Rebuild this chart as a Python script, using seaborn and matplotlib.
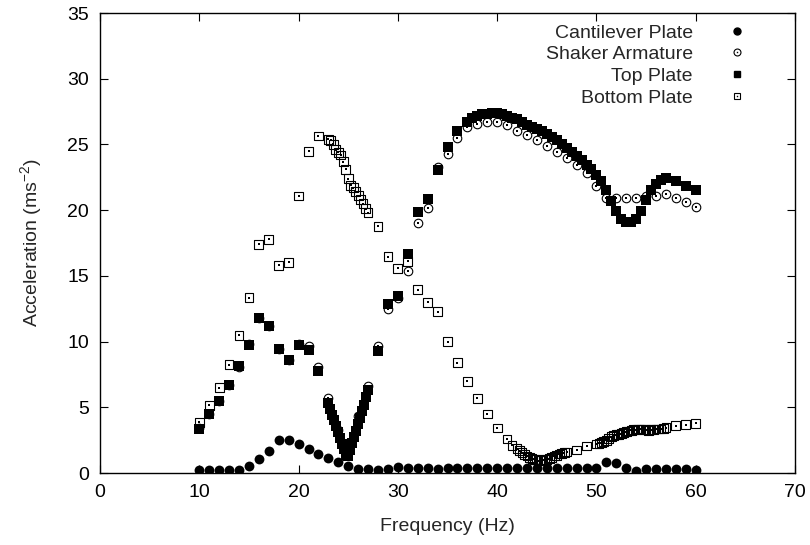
import matplotlib
matplotlib.use("Agg")
import matplotlib.pyplot as plt
import seaborn as sns
from matplotlib.lines import Line2D
from matplotlib.legend_handler import HandlerTuple

# ---- data ----
cant_freq = [10, 11, 12, 13, 14, 15, 16, 17, 18, 19, 20, 21, 22, 23, 24, 25, 26, 27, 28, 29,
             30, 31, 32, 33, 34, 35, 36, 37, 38, 39, 40, 41, 42, 43, 44, 45, 46, 47, 48, 49,
             50, 51, 52, 53, 54, 55, 56, 57, 58, 59, 60]
cant_acc = [0.2, 0.2, 0.2, 0.25, 0.25, 0.55, 1.06, 1.64, 2.5, 2.5, 2.23, 1.83, 1.45, 1.11, 0.86, 0.56,
            0.3, 0.3, 0.2, 0.3, 0.45, 0.35, 0.4, 0.35, 0.3, 0.35, 0.4, 0.35, 0.4, 0.35,
            0.4, 0.35, 0.4, 0.4, 0.35, 0.35, 0.4, 0.35, 0.35, 0.35, 0.4, 0.8, 0.75, 0.35,
            0.15, 0.3, 0.3, 0.3, 0.3, 0.3, 0.25]

shaker_freq = cant_freq
shaker_acc = [3.4, 4.5, 5.5, 6.7, 8.1, 9.8, 11.8, 11.2, 9.4, 8.6, 9.8, 9.65, 8.1, 5.7, 3.3, 1.9,
              4.3, 6.6, 9.65, 12.5, 13.3, 15.35, 19.05, 20.2, 23.3, 24.3, 25.5, 26.35, 26.55, 26.7,
              26.7, 26.45, 26.05, 25.75, 25.35, 24.9, 24.45, 23.95, 23.4, 22.8, 21.8, 20.9, 20.9,
              20.95, 20.95, 21.05, 21.1, 21.25, 20.95, 20.65, 20.25]

top_freq = [10, 11, 12, 13, 14, 15, 16, 17, 18, 19, 20, 21, 22,
            23.0, 23.2, 23.4, 23.6, 23.8, 24.0, 24.2, 24.4, 24.6, 24.8, 25.0, 25.2, 25.4, 25.6,
            25.8, 26.0, 26.2, 26.4, 26.6, 26.8, 27.0,
            28, 29, 30, 31, 32, 33, 34, 35, 36,
            37.0, 37.5, 38.0, 38.5, 39.0, 39.5, 40.0, 40.5, 41.0, 41.5, 42.0, 42.5, 43.0, 43.5,
            44.0, 44.5, 45.0, 45.5, 46.0, 46.5, 47.0, 47.5, 48.0, 48.5, 49.0, 49.5, 50.0, 50.5,
            51.0, 51.5, 52.0, 52.5, 53.0, 53.5, 54.0, 54.5, 55.0, 55.5, 56.0, 56.5, 57.0,
            58, 59, 60]
top_acc = [3.32, 4.46, 5.48, 6.7, 8.11, 9.76, 11.8, 11.2, 9.4, 8.6, 9.74, 9.33, 7.76,
           5.35, 4.9, 4.45, 4.0, 3.55, 3.1, 2.65, 2.2, 1.8, 1.4, 1.3, 1.75, 2.25, 2.75,
           3.2, 3.7, 4.2, 4.7, 5.2, 5.75, 6.3,
           9.26, 12.87, 13.5, 16.68, 19.85, 20.87, 23.08, 24.8, 26.0,
           26.7, 27.0, 27.2, 27.3, 27.35, 27.4, 27.4, 27.35, 27.2, 27.0, 26.9, 26.7, 26.5, 26.35,
           26.2, 26.0, 25.8, 25.55, 25.3, 25.0, 24.7, 24.4, 24.1, 23.8, 23.4, 23.1, 22.7, 22.2,
           21.5, 20.7, 19.9, 19.3, 19.1, 19.1, 19.3, 19.9, 20.8, 21.5, 22.0, 22.3, 22.45,
           22.2, 21.8, 21.5]

bottom_freq = [10, 11, 12, 13, 14, 15, 16, 17, 18, 19, 20, 21, 22,
               23.0, 23.25, 23.5, 23.75, 24.0, 24.25, 24.5, 24.75, 25.0, 25.25, 25.5, 25.75,
               26.0, 26.25, 26.5, 26.75, 27.0,
               28, 29, 30, 31, 32, 33, 34, 35, 36, 37, 38, 39, 40, 41,
               41.5, 42.0, 42.25, 42.5, 42.75, 43.0, 43.25, 43.5, 43.75, 44.0, 44.25, 44.5,
               44.75, 45.0, 45.25, 45.5, 45.75, 46.0, 46.25, 46.5, 46.75, 47.0,
               48, 49, 50,
               50.25, 50.5, 50.75, 51.0, 51.25, 51.5, 51.75, 52.0, 52.25, 52.5, 52.75, 53.0,
               53.25, 53.5, 53.75, 54.0, 54.25, 54.5, 54.75, 55.0, 55.25, 55.5, 55.75, 56.0,
               56.25, 56.5, 56.75, 57.0,
               58, 59, 60]
bottom_acc = [3.85, 5.15, 6.5, 8.25, 10.48, 13.35, 17.41, 17.79, 15.79, 16.04, 21.07, 24.47, 25.64,
              25.4, 25.3, 25.0, 24.6, 24.4, 24.2, 23.7, 23.1, 22.4, 21.9, 21.7, 21.4,
              21.1, 20.8, 20.5, 20.1, 19.8,
              18.78, 16.47, 15.58, 16.1, 13.94, 13.0, 12.28, 10.0, 8.4, 6.98, 5.68, 4.49, 3.43, 2.59,
              2.1, 1.85, 1.7, 1.55, 1.4, 1.3, 1.2, 1.1, 1.05, 1.0, 0.95, 0.95,
              1.0, 1.05, 1.1, 1.2, 1.3, 1.35, 1.45, 1.5, 1.55, 1.6,
              1.75, 2.05, 2.2,
              2.25, 2.3, 2.4, 2.5, 2.65, 2.75, 2.85, 2.9, 2.95, 3.0, 3.1, 3.15,
              3.2, 3.25, 3.3, 3.3, 3.35, 3.35, 3.3, 3.3, 3.25, 3.3, 3.3, 3.35,
              3.35, 3.35, 3.4, 3.45,
              3.6, 3.68, 3.78]

labels = ["Cantilever Plate", "Shaker Armature", "Top Plate", "Bottom Plate"]

sns.set_style("ticks")
plt.rcParams["font.family"] = ["Liberation Sans", "DejaVu Sans"]
plt.rcParams["mathtext.fontset"] = "custom"
plt.rcParams["mathtext.rm"] = "Liberation Sans"
plt.rcParams["mathtext.it"] = "Liberation Sans"

FS = 14

fig = plt.figure(figsize=(8.1, 5.45), dpi=100)
ax = fig.add_axes([100 / 810, 1 - 473 / 545, 695 / 810, 460 / 545])

# cantilever: filled circles
sns.scatterplot(x=cant_freq, y=cant_acc, ax=ax, marker="o", s=50, color="black",
                edgecolor="black", linewidth=0, legend=False, zorder=3)
# shaker: open circles with centre dot
sns.scatterplot(x=shaker_freq, y=shaker_acc, ax=ax, marker="o", s=38, facecolor="white",
                edgecolor="black", linewidth=0.8, legend=False, zorder=4)
sns.scatterplot(x=shaker_freq, y=shaker_acc, ax=ax, marker="s", s=1.2, color="black",
                linewidth=0, legend=False, zorder=4)
# top plate: filled squares
sns.scatterplot(x=top_freq, y=top_acc, ax=ax, marker="s", s=52, color="black",
                linewidth=0, legend=False, zorder=5)
# bottom plate: open squares with centre dot
sns.scatterplot(x=bottom_freq, y=bottom_acc, ax=ax, marker="s", s=40, facecolor="none",
                edgecolor="black", linewidth=0.8, legend=False, zorder=6)
sns.scatterplot(x=bottom_freq, y=bottom_acc, ax=ax, marker="s", s=1.2, color="black",
                linewidth=0, legend=False, zorder=6)

ax.set_xlim(0, 70)
ax.set_ylim(0, 35)
ax.set_xticks(range(0, 71, 10))
ax.set_yticks(range(0, 36, 5))
ax.tick_params(direction="in", length=6, width=0.8, top=True, right=True,
               labelsize=FS, pad=8, colors="black")
for sp in ax.spines.values():
    sp.set_visible(True)
    sp.set_linewidth(1.0)
    sp.set_color("black")

ax.set_xlabel("Frequency (Hz)", fontsize=FS, labelpad=12)
ax.set_ylabel("Acceleration (ms$^{-2}$)", fontsize=FS, labelpad=17)

h_cant = Line2D([], [], ls="none", marker="o", ms=5, mfc="black", mec="black")
h_shk = (Line2D([], [], ls="none", marker="o", ms=5, mfc="white", mec="black", mew=0.8),
         Line2D([], [], ls="none", marker="s", ms=1, mfc="black", mec="none"))
h_top = Line2D([], [], ls="none", marker="s", ms=5, mfc="black", mec="black")
h_bot = (Line2D([], [], ls="none", marker="s", ms=5, mfc="none", mec="black", mew=0.8),
         Line2D([], [], ls="none", marker="s", ms=1, mfc="black", mec="none"))

fig.legend([h_cant, h_shk, h_top, h_bot], labels, loc="upper right",
           bbox_to_anchor=(754 / 810, 1 - 24 / 545), frameon=False, markerfirst=False,
           fontsize=FS, handlelength=1.7, handletextpad=1.45, labelspacing=0.21,
           borderpad=0, borderaxespad=0,
           handler_map={tuple: HandlerTuple(ndivide=1)})

fig.savefig("out.png", dpi=100)
